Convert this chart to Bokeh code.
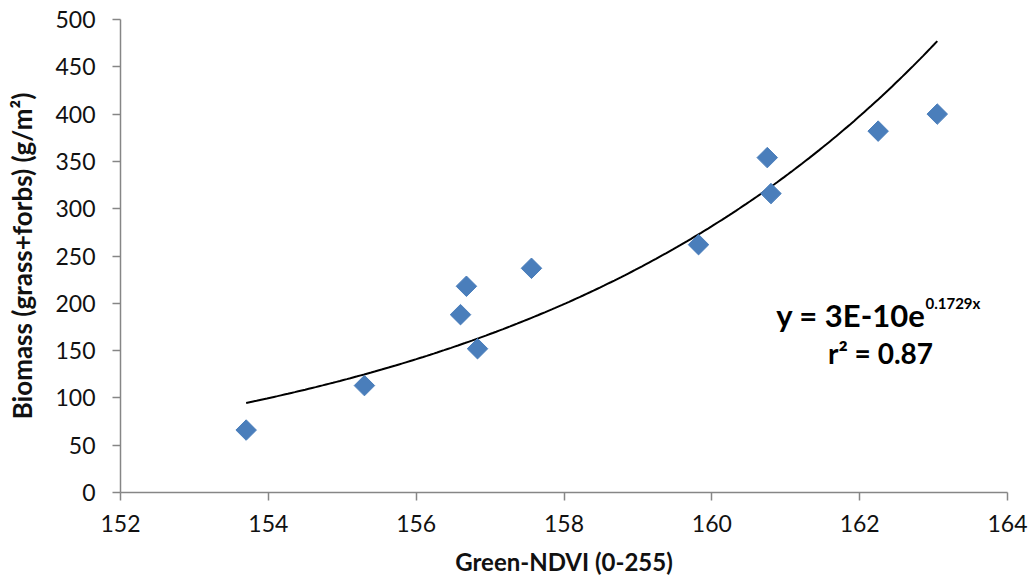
import numpy as np
from bokeh.plotting import figure
from bokeh.models import Range1d, Label, FixedTicker
from bokeh.embed import file_html
from bokeh.resources import INLINE

# data
ndvi = [153.70, 155.30, 156.60, 156.68, 156.83, 157.56, 159.82, 160.75, 160.80, 162.25, 163.05]
biomass = [66, 113, 188, 218, 152, 237, 262, 354, 316, 382, 400]
x_ticks = [152, 154, 156, 158, 160, 162, 164]
y_ticks = [0, 50, 100, 150, 200, 250, 300, 350, 400, 450, 500]

# exponential trend line (least squares on ln y, as a spreadsheet does)
b, ln_a = np.polyfit(np.array(ndvi), np.log(np.array(biomass)), 1)
tx = np.linspace(min(ndvi), max(ndvi), 200)
ty = np.exp(ln_a) * np.exp(b * tx)

FONT = "Lato"
AXIS_C = "#868686"
TXT_C = "#111111"

p = figure(width=1029, height=583, output_backend="svg", toolbar_location=None,
           x_range=Range1d(152, 164), y_range=Range1d(0, 500),
           min_border_left=120, min_border_right=22, min_border_top=19, min_border_bottom=91)
p.outline_line_color = None
p.xgrid.grid_line_color = None
p.ygrid.grid_line_color = None

p.line(tx, ty, line_color="black", line_width=2)
p.scatter(ndvi, biomass, marker="square", size=14.5, angle=np.pi / 4,
          fill_color="#4A7EBB", line_color="#4A7EBB")

for ax in (p.xaxis[0], p.yaxis[0]):
    ax.axis_line_color = AXIS_C
    ax.axis_line_width = 1.5
    ax.major_tick_line_color = AXIS_C
    ax.major_tick_line_width = 1.5
    ax.major_tick_out = 8
    ax.major_tick_in = 0
    ax.minor_tick_line_color = None
    ax.major_label_text_font = FONT
    ax.major_label_text_font_size = "23px"
    ax.major_label_text_color = TXT_C
    ax.axis_label_text_font = FONT
    ax.axis_label_text_font_style = "bold"
    ax.axis_label_text_color = TXT_C

p.xaxis.ticker = FixedTicker(ticks=x_ticks)
p.yaxis.ticker = FixedTicker(ticks=y_ticks)
p.xaxis.axis_label = "Green-NDVI (0-255)"
p.yaxis.axis_label = "Biomass (grass+forbs) (g/m²)"
p.xaxis.axis_label_text_font_size = "24px"
p.yaxis.axis_label_text_font_size = "26px"
p.xaxis.major_label_standoff = 14
p.yaxis.major_label_standoff = 17
p.xaxis.axis_label_standoff = 12
p.yaxis.axis_label_standoff = 14

# equation annotation (screen units relative to the plot frame)
p.add_layout(Label(x=805, y=178, x_units="screen", y_units="screen",
                   text="y = 3E-10e", text_font=FONT, text_font_style="bold",
                   text_font_size="31px", text_color="black",
                   text_align="right", text_baseline="alphabetic"))
p.add_layout(Label(x=805, y=190, x_units="screen", y_units="screen",
                   text="0.1729x", text_font=FONT, text_font_style="bold",
                   text_font_size="15px", text_color="black",
                   text_align="left", text_baseline="alphabetic"))
p.add_layout(Label(x=760, y=140, x_units="screen", y_units="screen",
                   text="r² = 0.87", text_font=FONT, text_font_style="bold",
                   text_font_size="28px", text_color="black",
                   text_align="center", text_baseline="alphabetic"))

open("out.html", "w").write(file_html(p, INLINE))
